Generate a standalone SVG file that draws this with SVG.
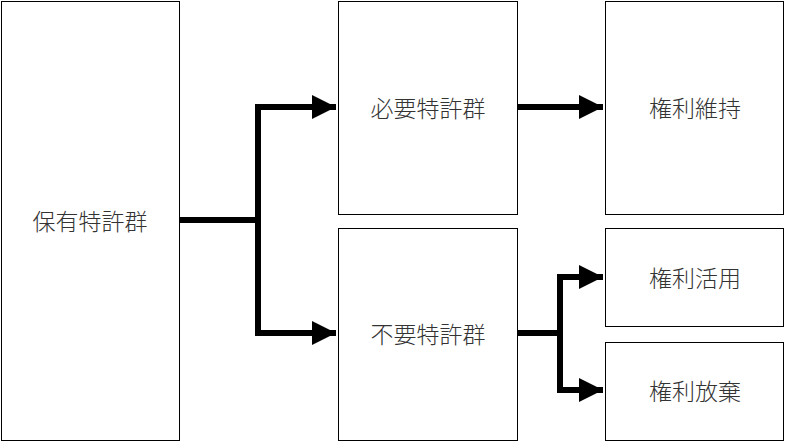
<svg xmlns="http://www.w3.org/2000/svg" width="785" height="442" viewBox="0 0 785 442">
<style>
.n rect{fill:#fff;stroke:#000;stroke-width:1}
.n text{font-family:"Noto Sans CJK JP","Noto Sans CJK SC",sans-serif;font-size:23px;font-weight:300;fill:#333;text-anchor:middle;dominant-baseline:central}
.c path{fill:none;stroke:#000;stroke-width:6}
</style>
<defs><marker id="a" markerWidth="4" markerHeight="4" refX="4" refY="2" orient="auto" markerUnits="strokeWidth"><path d="M0,0L4,2L0,4Z" fill="#000"/></marker></defs>
<rect width="785" height="442" fill="#fff"/>
<g class="c">
<path d="M179,220H258V107H336" marker-end="url(#a)"/>
<path d="M258,220V333H336" marker-end="url(#a)"/>
<path d="M517,107H603" marker-end="url(#a)"/>
<path d="M517,333H560V277H603" marker-end="url(#a)"/>
<path d="M560,333V390H603" marker-end="url(#a)"/>
</g>
<g id="n1" class="n"><rect x="1.5" y="1.5" width="178" height="439"/><text x="90" y="220">保有特許群</text></g>
<g id="n2" class="n"><rect x="338.5" y="1.5" width="179" height="213"/><text x="428" y="107">必要特許群</text></g>
<g id="n3" class="n"><rect x="338.5" y="228.5" width="179" height="212"/><text x="428" y="333">不要特許群</text></g>
<g id="n4" class="n"><rect x="605.5" y="1.5" width="178" height="213"/><text x="695" y="107">権利維持</text></g>
<g id="n5" class="n"><rect x="605.5" y="228.5" width="178" height="98"/><text x="695" y="277">権利活用</text></g>
<g id="n6" class="n"><rect x="605.5" y="342.5" width="178" height="98"/><text x="695" y="390">権利放棄</text></g>
</svg>
